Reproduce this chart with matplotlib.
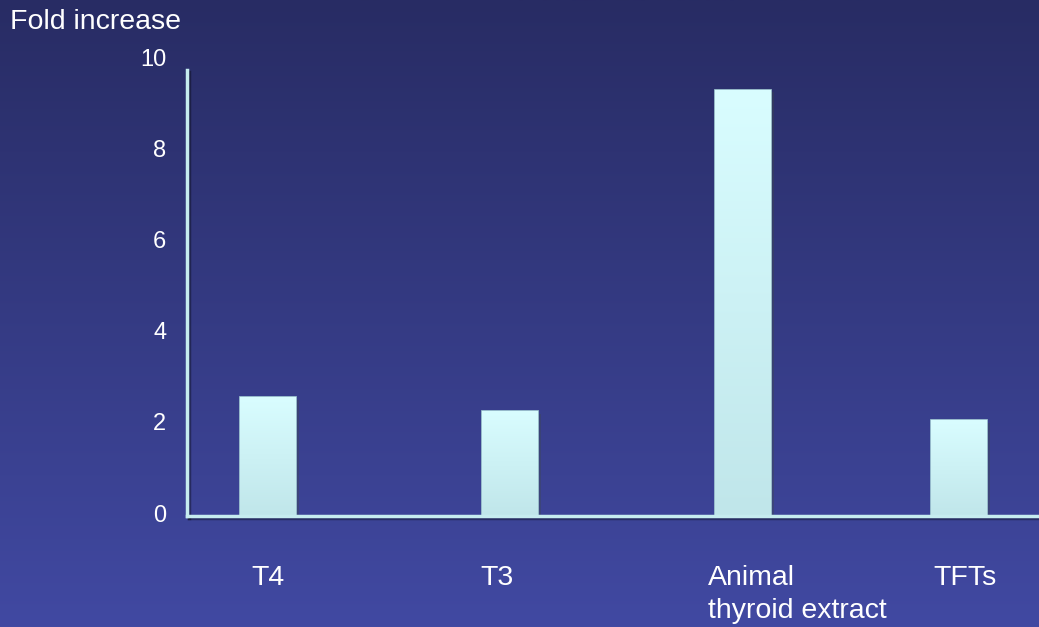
import numpy as np
import matplotlib.pyplot as plt
import matplotlib.patheffects as pe
from matplotlib.colors import LinearSegmentedColormap
from matplotlib.transforms import ScaledTranslation

plt.rcParams['font.family'] = ['Liberation Sans', 'DejaVu Sans']

categories = ['T4', 'T3', 'Animal\nthyroid extract', 'TFTs']
fold_increase = [2.6, 2.3, 9.35, 2.1]
y_ticks = [0, 2, 4, 6, 8, 10]

# layout (axis units: the x axis spans 0..8.52)
bar_x = [0.81, 3.23, 5.56, 7.72]
label_x = [0.81, 3.10, 5.21, 7.78]
label_ha = ['center', 'center', 'left', 'center']
bar_w = 0.56

W, H = 1039, 627
fig = plt.figure(figsize=(W / 100, H / 100), dpi=100)

# background gradient
bg = fig.add_axes([0, 0, 1, 1], zorder=0)
bg_cmap = LinearSegmentedColormap.from_list('bg', ['#282c64', '#4149a2'])
bg.imshow(np.linspace(0, 1, 256).reshape(-1, 1), cmap=bg_cmap, aspect='auto',
          extent=[0, 1, 0, 1], origin='upper')
bg.set_axis_off()

ax_left, ax_bottom = 187 / W, (H - 516) / H
ax = fig.add_axes([ax_left, ax_bottom, 1 - ax_left, 456 / H], zorder=1)
ax.patch.set_alpha(0)
ax.set_xlim(0, 8.52)
ax.set_ylim(0, 10)

bar_cmap = LinearSegmentedColormap.from_list('bar', ['#c0e6ea', '#d9fdff'])
grad = np.linspace(0, 1, 256).reshape(-1, 1)
bars = ax.bar(bar_x, fold_increase, width=bar_w, color='#cdf3f6',
              edgecolor='#a9d2d8', linewidth=1.2, zorder=2)
for b in bars:
    b.set_path_effects([pe.SimplePatchShadow(offset=(2, -2), alpha=0.35), pe.Normal()])
    x0, y0 = b.get_x(), b.get_y()
    im = ax.imshow(grad, cmap=bar_cmap, aspect='auto', origin='lower',
                   extent=[x0, x0 + b.get_width(), y0, y0 + b.get_height()], zorder=2.5)
    im.set_clip_path(b)

axis_color = '#c6ecef'
for side in ['top', 'right']:
    ax.spines[side].set_visible(False)
for side in ['left', 'bottom']:
    ax.spines[side].set_color(axis_color)
    ax.spines[side].set_linewidth(2.5)
    ax.spines[side].set_path_effects([pe.SimpleLineShadow(offset=(1.5, -1.5), alpha=0.35), pe.Normal()])
    ax.spines[side].set_zorder(3)
ax.spines['left'].set_bounds(0, 9.78)

ax.set_yticks(y_ticks)
ax.set_yticklabels([str(t) for t in y_ticks])
ax.tick_params(axis='y', length=0, pad=15, labelsize=17, labelcolor='white')
lift = ScaledTranslation(0, 3 / 100, fig.dpi_scale_trans)
for lab in ax.get_yticklabels():
    lab.set_transform(lab.get_transform() + lift)
ax.set_xticks([])

for x, lab, ha in zip(label_x, categories, label_ha):
    ax.text(x, -1.07, lab, ha=ha, va='top', fontsize=20.5, color='white',
            multialignment='left', linespacing=1.35)

fig.text(10 / W, 1 - 22 / H, 'Fold increase', ha='left', va='center',
         fontsize=20.5, color='white')

fig.savefig('out.png', dpi=100)
